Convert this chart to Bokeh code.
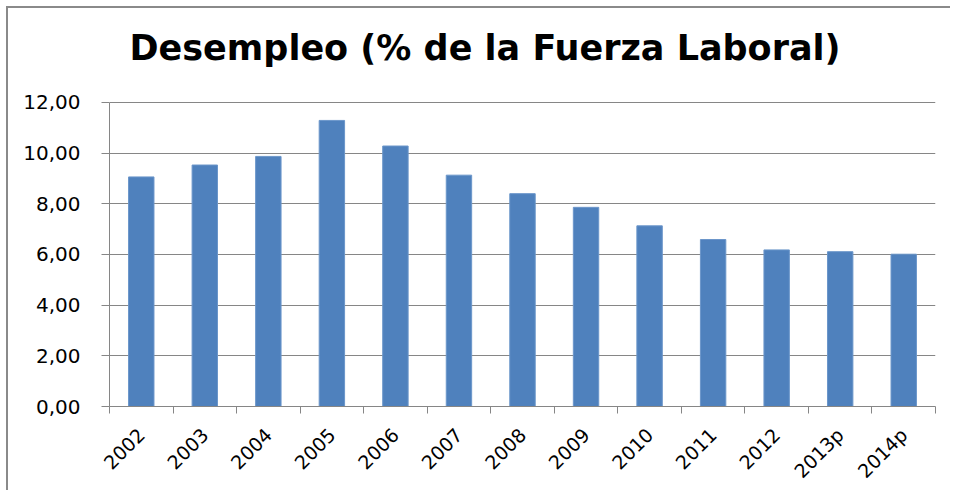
import math
from bokeh.plotting import figure
from bokeh.models import FixedTicker, CustomJSTickFormatter, Range1d, ColumnDataSource
from bokeh.embed import file_html
from bokeh.resources import INLINE

years = ["2002", "2003", "2004", "2005", "2006", "2007", "2008",
         "2009", "2010", "2011", "2012", "2013p", "2014p"]
unemployment = [9.06, 9.53, 9.87, 11.29, 10.28, 9.13, 8.40,
                7.86, 7.13, 6.59, 6.18, 6.11, 6.01]
y_ticks = [0, 2, 4, 6, 8, 10, 12]
title_text = "Desempleo (% de la Fuerza Laboral)"

positions = list(range(1, len(years) + 1))
boundaries = [i + 0.5 for i in range(0, len(years) + 1)]

# layout (pixels inside the canvas)
frame_top_px = 74        # top of drawing frame (room kept for the title)
axis_top_px = 94         # where the 12,00 gridline sits
axis_bottom_px = 399     # where 0,00 sits
y_max = y_ticks[-1]
y_end = y_max * (axis_bottom_px - frame_top_px) / (axis_bottom_px - axis_top_px)

src = ColumnDataSource(dict(x=positions, y=unemployment, year=years))

p = figure(width=944, height=484, output_backend="svg", toolbar_location=None,
           x_range=Range1d(0.5, len(years) + 0.5), y_range=Range1d(0, y_end),
           min_border_left=101, min_border_right=17, min_border_top=frame_top_px,
           min_border_bottom=484 - axis_bottom_px, title=title_text)
p.styles = {"border-top": "2px solid #8a8a8a", "border-left": "2px solid #8a8a8a",
            "margin-left": "6px", "margin-top": "6px"}

p.title.align = "left"
p.title.offset = 20
p.title.text_font = "DejaVu Sans"
p.title.text_font_style = "bold"
p.title.text_font_size = "35px"
p.title.text_color = "#000000"
p.title.standoff = 30

p.vbar(x="x", top="y", width=0.4, source=src, fill_color="#4F81BD",
       line_color="#6b96ca", line_width=1)

p.outline_line_color = None
p.background_fill_color = "white"
p.border_fill_color = "white"

# grid
p.xgrid.grid_line_color = None
p.ygrid.grid_line_color = "#868686"
p.ygrid.grid_line_width = 1

# y axis
p.yaxis.ticker = FixedTicker(ticks=y_ticks)
p.yaxis.bounds = (0, y_max)
p.yaxis.formatter = CustomJSTickFormatter(code="return tick.toFixed(2).replace('.', ',');")
p.yaxis.axis_line_color = "#868686"
p.yaxis.major_tick_line_color = "#868686"
p.yaxis.major_tick_out = 8
p.yaxis.major_tick_in = 0
p.yaxis.minor_tick_line_color = None
p.yaxis.major_label_standoff = 21
p.yaxis.major_label_text_font = "DejaVu Sans"
p.yaxis.major_label_text_font_size = "20px"
p.yaxis.major_label_text_color = "#000000"

# x axis
p.xaxis.ticker = FixedTicker(ticks=positions, minor_ticks=boundaries)
p.xaxis.major_label_overrides = {pos: yr for pos, yr in zip(positions, years)}
p.xaxis.axis_line_color = "#868686"
p.xaxis.major_tick_line_color = None
p.xaxis.minor_tick_line_color = "#868686"
p.xaxis.minor_tick_out = 7
p.xaxis.minor_tick_in = 0
p.xaxis.major_label_orientation = math.pi / 4
p.xaxis.major_label_standoff = 18
p.xaxis.major_label_text_line_height = 1.0
p.xaxis.major_label_text_font = "DejaVu Sans"
p.xaxis.major_label_text_font_size = "19px"
p.xaxis.major_label_text_color = "#000000"

open("out.html", "w").write(file_html(p, INLINE))
